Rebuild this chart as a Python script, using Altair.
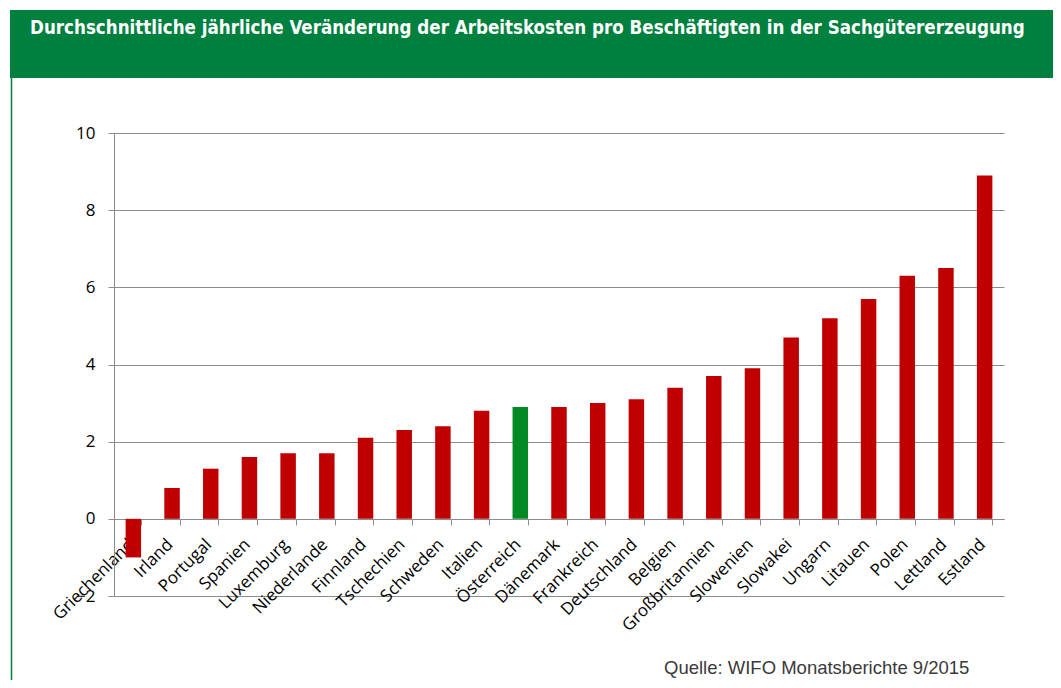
import altair as alt
import pandas as pd

countries = ["Griechenland", "Irland", "Portugal", "Spanien", "Luxemburg", "Niederlande",
             "Finnland", "Tschechien", "Schweden", "Italien", "Österreich", "Dänemark",
             "Frankreich", "Deutschland", "Belgien", "Großbritannien", "Slowenien",
             "Slowakei", "Ungarn", "Litauen", "Polen", "Lettland", "Estland"]
values = [-1.0, 0.8, 1.3, 1.6, 1.7, 1.7, 2.1, 2.3, 2.4, 2.8, 2.9, 2.9, 3.0, 3.1,
          3.4, 3.7, 3.9, 4.7, 5.2, 5.7, 6.3, 6.5, 8.9]
highlight = ["Österreich"]
y_ticks = [-2, 0, 2, 4, 6, 8, 10]

title_text = "Durchschnittliche jährliche Veränderung der Arbeitskosten pro Beschäftigten in der Sachgütererzeugung"
source_text = "Quelle: WIFO Monatsberichte 9/2015"

df = pd.DataFrame({
    "Land": countries,
    "Wert": values,
    "Gruppe": ["AT" if c in highlight else "EU" for c in countries],
})

W, H = 890, 463
GREEN = "#00803F"

bars = alt.Chart(df).mark_bar().encode(
    x=alt.X("Land:N", sort=None,
            scale=alt.Scale(paddingInner=0.6, paddingOuter=0.3),
            axis=alt.Axis(title=None, offset=-77, labelAngle=-45,
                          labelAlign="right", labelBaseline="top",
                          labelFont="Open Sans", labelFontSize=17, labelColor="#000000",
                          labelPadding=11, labelOffset=-8,
                          domainColor="#8c8c8c", tickColor="#8c8c8c",
                          tickSize=6, tickBand="extent", labelOverlap=False)),
    y=alt.Y("Wert:Q", scale=alt.Scale(domain=[-2, 10], nice=False),
            axis=alt.Axis(title=None, values=y_ticks, labelFont="Open Sans",
                          labelFontSize=17, labelColor="#000000", labelPadding=13,
                          domainColor="#8c8c8c", tickColor="#8c8c8c", tickSize=6,
                          gridColor="#8c8c8c", gridWidth=1, grid=True)),
    color=alt.Color("Gruppe:N", scale=alt.Scale(domain=["EU", "AT"],
                                                range=["#C00000", "#008A23"]),
                    legend=None),
)

bar_bg = alt.Chart(pd.DataFrame({"a": [1]})).mark_rect(color=GREEN).encode(
    x=alt.value(-104), x2=alt.value(939), y=alt.value(-123), y2=alt.value(-55))

border = alt.Chart(pd.DataFrame({"a": [1]})).mark_rule(color=GREEN, strokeWidth=1.5).encode(
    x=alt.value(-102.5), y=alt.value(-55), y2=alt.value(560))

title = alt.Chart(pd.DataFrame({"t": [title_text]})).mark_text(
    align="left", baseline="alphabetic", color="white", fontWeight="bold",
    font="Liberation Sans Narrow, DejaVu Sans Condensed, Arial Narrow, sans-serif",
    fontSize=18.6).encode(text="t:N", x=alt.value(-84), y=alt.value(-99.5))

source = alt.Chart(pd.DataFrame({"t": [source_text]})).mark_text(
    align="left", baseline="alphabetic", color="#3a3a3a",
    font="Liberation Sans, Arial, sans-serif", fontSize=18.5).encode(
    text="t:N", x=alt.value(550), y=alt.value(541))

chart = alt.layer(bar_bg, border, bars, title, source).properties(
    width=W, height=H,
    autosize=alt.AutoSizeParams(type="none"),
    padding={"left": 106, "top": 125, "right": 49, "bottom": 84},
).configure_view(strokeWidth=0).resolve_scale(color="independent")

chart.save("out.html", embed_options={"renderer": "svg", "actions": False})
